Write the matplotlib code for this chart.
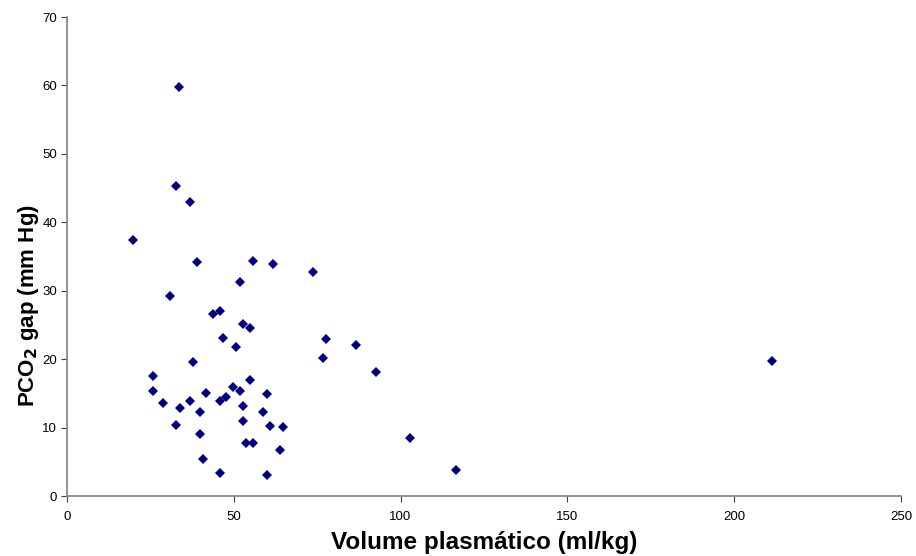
import matplotlib
matplotlib.use("Agg")
import matplotlib.pyplot as plt

plt.rcParams['font.family'] = ['Liberation Sans', 'DejaVu Sans']

# Volume plasmático (ml/kg)
volume = [19.8, 33.6, 32.7, 36.9, 39.0, 55.8, 61.8, 73.7, 51.9, 30.8,
          43.8, 45.9, 52.8, 54.8, 46.8, 50.8, 77.7, 76.7, 37.8, 25.8,
          25.8, 54.8, 49.8, 51.8, 41.8, 59.9, 28.8, 36.8, 45.8, 47.8,
          33.8, 39.8, 52.8, 58.8, 32.8, 52.8, 60.8, 64.7, 39.8, 53.7,
          55.8, 63.8, 40.8, 45.8, 59.9, 102.7, 116.7, 92.7, 86.7, 211.3]
# PCO2 gap (mm Hg)
pco2_gap = [37.4, 59.8, 45.3, 43.0, 34.2, 34.3, 33.9, 32.8, 31.3, 29.2,
            26.6, 27.1, 25.1, 24.5, 23.1, 21.8, 22.9, 20.1, 19.6, 17.5,
            15.4, 17.0, 16.0, 15.4, 15.0, 14.9, 13.6, 13.9, 13.9, 14.4,
            12.9, 12.3, 13.1, 12.3, 10.4, 11.0, 10.2, 10.1, 9.0, 7.8,
            7.8, 6.7, 5.4, 3.4, 3.0, 8.5, 3.8, 18.1, 22.1, 19.7]

fig = plt.figure(figsize=(9.16, 5.56), dpi=100)
ax = fig.add_axes([0.0731, 0.1079, 0.9105, 0.8615])

ax.plot(volume, pco2_gap, linestyle='none', marker='D', markersize=5,
        color='#000080', markeredgewidth=0)

ax.set_xlim(0, 250)
ax.set_ylim(0, 70)
ax.set_xticks(range(0, 251, 50))
ax.set_yticks(range(0, 71, 10))

for side in ['top', 'right']:
    ax.spines[side].set_visible(False)
for side in ['bottom', 'left']:
    ax.spines[side].set_color('#808080')
    ax.spines[side].set_linewidth(1.2)
ax.tick_params(axis='both', labelsize=9.5, length=4, width=0.8,
               direction='out', color='#404040')
ax.tick_params(axis='x', pad=7)
ax.tick_params(axis='y', pad=3)

ax.set_xlabel('Volume plasmático (ml/kg)', fontsize=17.5, fontweight='bold')
ax.set_ylabel('PCO$_\\mathbf{2}$ gap (mm Hg)', fontsize=16, fontweight='bold')
ax.xaxis.set_label_coords(0.5, -0.073)
ax.yaxis.set_label_coords(-0.031, 0.397)

fig.savefig('out.png', dpi=100)
